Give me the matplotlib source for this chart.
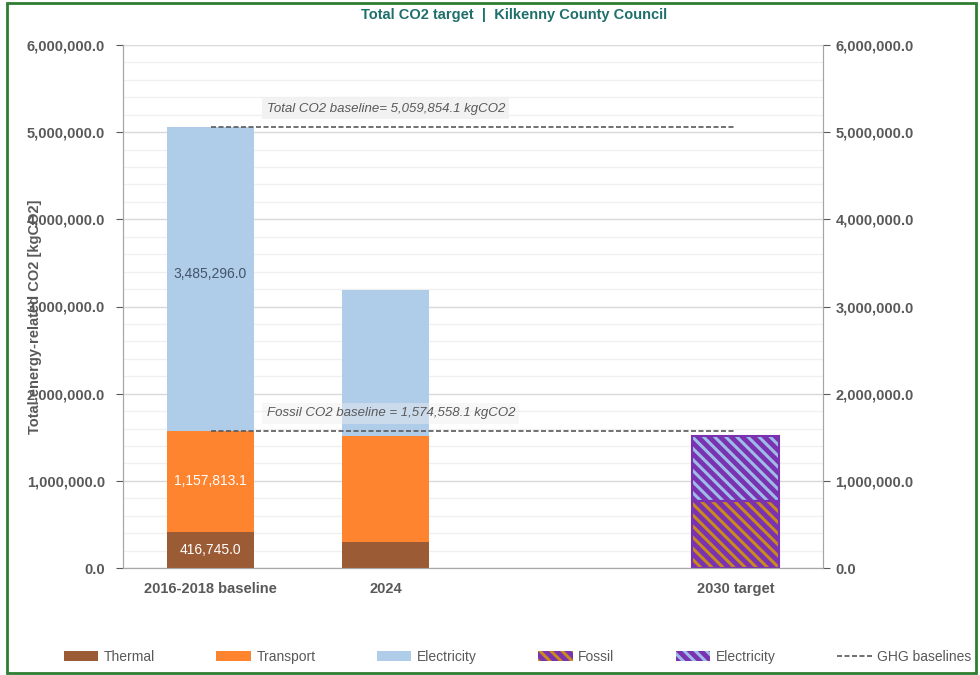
import matplotlib.pyplot as plt
from matplotlib.patches import Patch, Rectangle
from matplotlib.lines import Line2D
from matplotlib.ticker import MultipleLocator, FuncFormatter

plt.rcParams['font.family'] = ['Liberation Sans', 'DejaVu Sans']
plt.rcParams['hatch.linewidth'] = 2.2

# data
categories = ["2016-2018 baseline", "2024", "", "2030 target"]
thermal = [416745.0, 302000.0, 0, 0]
transport = [1157813.1, 1216000.0, 0, 0]
electricity = [3485296.0, 1671000.0, 0, 0]
target_fossil = [0, 0, 0, 770000.0]
target_electricity = [0, 0, 0, 748000.0]
total_baseline = 5059854.1
fossil_baseline = 1574558.1

grey = "#595959"
c_thermal = "#9b5b35"
c_transport = "#fe8430"
c_elec = "#afcce9"
c_purple = "#7a32b0"

fig = plt.figure(figsize=(9.8, 6.75), dpi=100)
ax = fig.add_axes([123 / 980, 1 - 568 / 675, 700 / 980, 523 / 675])

x = list(range(len(categories)))
fossil_sum = [a + b for a, b in zip(thermal, transport)]
ax.bar(x, thermal, width=0.5, color=c_thermal, zorder=3)
ax.bar(x, transport, width=0.5, bottom=thermal, color=c_transport, zorder=3)
ax.bar(x, electricity, width=0.5, bottom=fossil_sum, color=c_elec, zorder=3)

# hatched target bars (only where there is a value)
tx = [i for i in x if target_fossil[i] > 0]
tf = [target_fossil[i] for i in tx]
te = [target_electricity[i] for i in tx]
ax.bar(tx, tf, width=0.5, color=c_purple, edgecolor="#c8891e", hatch="\\\\\\", linewidth=0, zorder=3)
ax.bar(tx, te, width=0.5, bottom=tf, color=c_purple, edgecolor="#9dbde8", hatch="\\\\\\", linewidth=0, zorder=3)
ax.bar(tx, tf, width=0.5, fill=False, edgecolor=c_purple, linewidth=1.5, zorder=4)
ax.bar(tx, te, width=0.5, bottom=tf, fill=False, edgecolor=c_purple, linewidth=1.5, zorder=4)

# baseline lines
ax.hlines([total_baseline, fossil_baseline], 0, 3, colors=grey, linestyles=(0, (3, 1.5)), linewidth=1.2, zorder=5)
ax.text(0.32, total_baseline + 210000, "Total CO2 baseline= 5,059,854.1 kgCO2", fontsize=9.5, style="italic",
        color=grey, ha="left", va="center", zorder=6,
        bbox=dict(facecolor="#f2f2f2", edgecolor="none", pad=3))
ax.text(0.32, fossil_baseline + 200000, "Fossil CO2 baseline = 1,574,558.1 kgCO2", fontsize=9.5, style="italic",
        color=grey, ha="left", va="center", zorder=6,
        bbox=dict(facecolor="#eeeeee", edgecolor="none", pad=3, alpha=0.45))

# data labels for baseline
ax.text(0, thermal[0] / 2, "416,745.0", color="white", ha="center", va="center", fontsize=10, zorder=6)
ax.text(0, thermal[0] + transport[0] / 2, "1,157,813.1", color="white", ha="center", va="center", fontsize=10, zorder=6)
ax.text(0, fossil_sum[0] + electricity[0] / 2 + 50000, "3,485,296.0", color="#44546a", ha="center", va="center",
        fontsize=10, zorder=6)

fmt = FuncFormatter(lambda v, p: f"{v:,.1f}")
ax.set_ylim(0, 6000000)
ax.set_xlim(-0.5, 3.5)
ax.yaxis.set_major_locator(MultipleLocator(1000000))
ax.yaxis.set_minor_locator(MultipleLocator(200000))
ax.yaxis.set_major_formatter(fmt)
ax.grid(axis="y", which="major", color="#d9d9d9", linewidth=1, zorder=0)
ax.grid(axis="y", which="minor", color="#f0f0f0", linewidth=1, zorder=0)
ax.set_axisbelow(True)
ax.set_xticks(x)
ax.set_xticklabels(categories, fontsize=10.5, fontweight="bold", color=grey)
ax.tick_params(axis="x", length=0, pad=10)
ax.tick_params(axis="y", which="major", labelsize=10.5, colors=grey, length=5, pad=8)
ax.tick_params(axis="y", which="minor", length=0)
for lab in ax.get_yticklabels():
    lab.set_fontweight("bold")
for s in ["left", "right", "bottom"]:
    ax.spines[s].set_color("#a6a6a6")
ax.spines["top"].set_visible(False)
ax.set_ylabel("Total energy-related CO2 [kgCO2]", fontsize=10.5, fontweight="bold", color=grey)
ax.yaxis.set_label_coords(-0.115, 0.48)

ax2 = ax.twinx()
ax2.set_ylim(0, 6000000)
ax2.yaxis.set_major_locator(MultipleLocator(1000000))
ax2.yaxis.set_major_formatter(fmt)
ax2.tick_params(axis="y", labelsize=10.5, colors=grey, length=5, pad=4)
for lab in ax2.get_yticklabels():
    lab.set_fontweight("bold")
for s in ["left", "right", "bottom"]:
    ax2.spines[s].set_color("#a6a6a6")
ax2.spines["top"].set_visible(False)

fig.text(514 / 980, 1 - 15 / 675, "Total CO2 target  |  Kilkenny County Council", fontsize=10.5,
         fontweight="bold", color="#1f6f6b", ha="center", va="center")

handles = [
    Patch(facecolor=c_thermal, label="Thermal"),
    Patch(facecolor=c_transport, label="Transport"),
    Patch(facecolor=c_elec, label="Electricity"),
    Patch(facecolor=c_purple, edgecolor="#c8891e", hatch="\\\\\\", linewidth=0, label="Fossil"),
    Patch(facecolor=c_purple, edgecolor="#9dbde8", hatch="\\\\\\", linewidth=0, label="Electricity"),
    Line2D([0], [0], color=grey, linestyle=(0, (3, 1.5)), linewidth=1.2, label="GHG baselines"),
]
leg = fig.legend(handles=handles, loc="center", bbox_to_anchor=(0.528, 1 - 657 / 675), ncol=6, frameon=False,
                 fontsize=10, handlelength=2.5, handleheight=0.8, columnspacing=4.4, handletextpad=0.4)
for t in leg.get_texts():
    t.set_color(grey)

# outer frame
fig.patches.append(Rectangle((7 / 980, 2 / 675), 969 / 980, 670 / 675, transform=fig.transFigure,
                             fill=False, edgecolor="#2e7d32", linewidth=2))

fig.savefig("out.png", dpi=100)
